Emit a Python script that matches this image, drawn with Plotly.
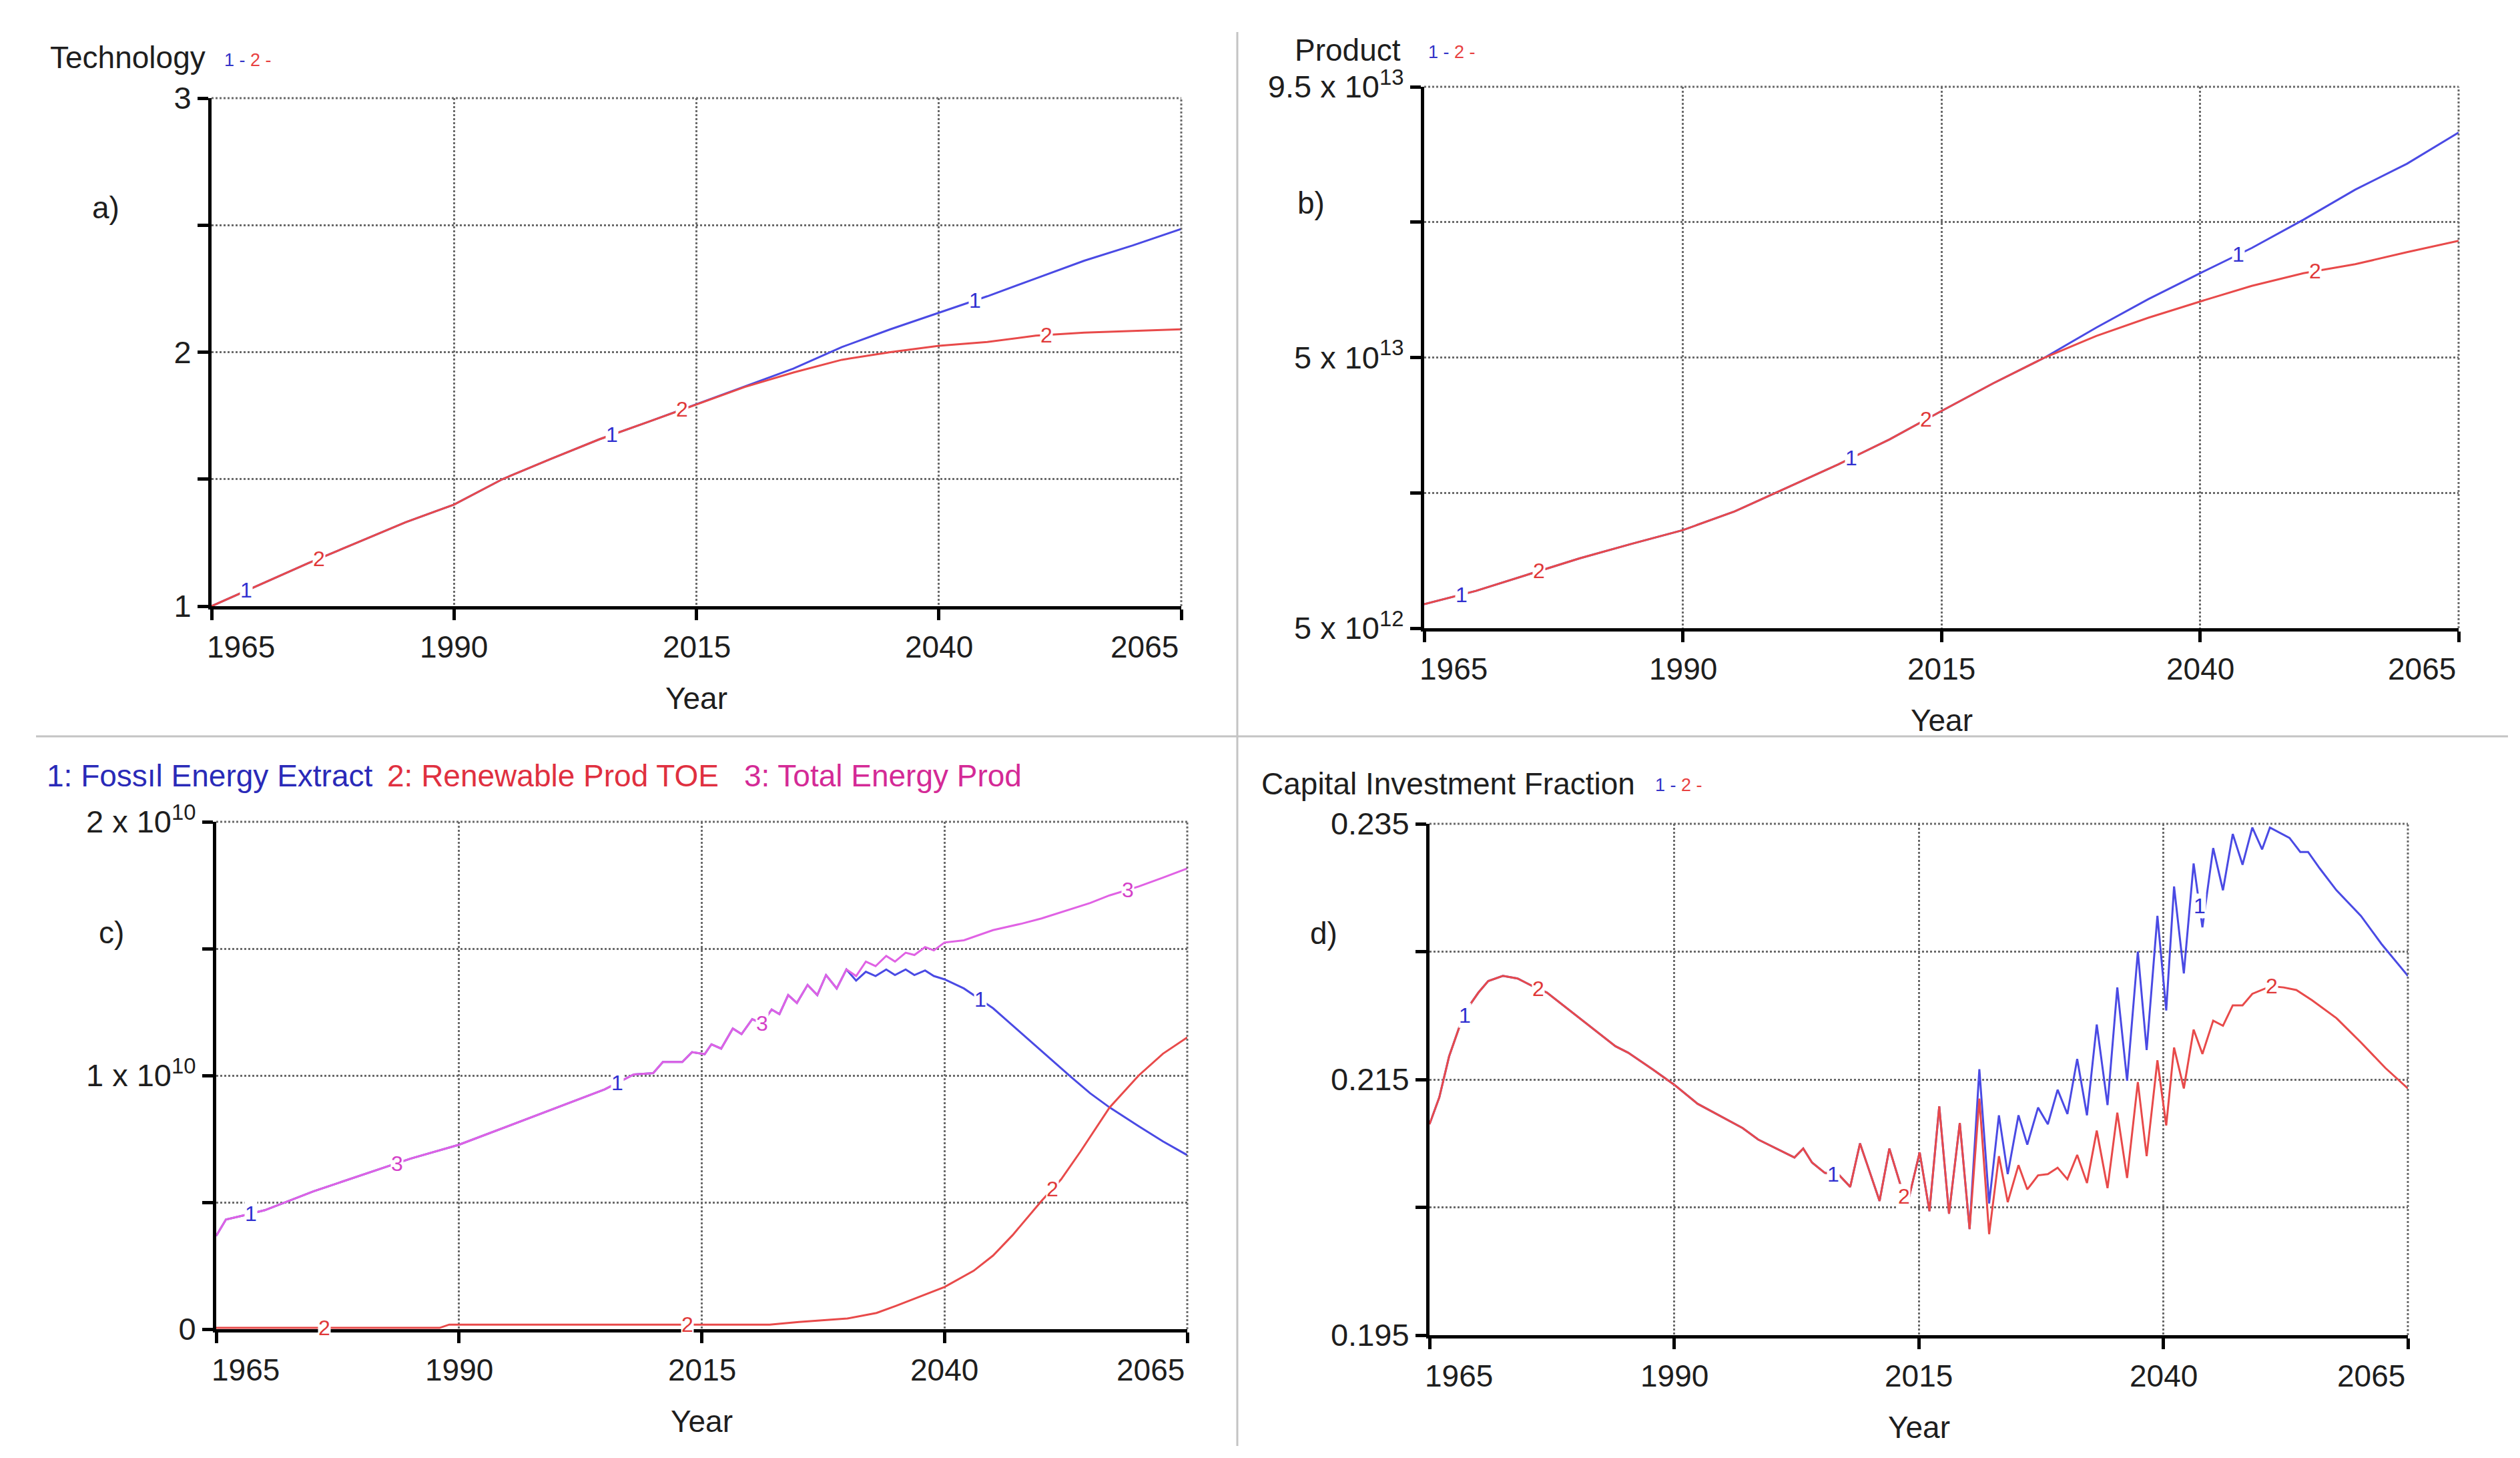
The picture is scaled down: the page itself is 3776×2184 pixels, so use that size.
import numpy as np
import plotly.graph_objects as go

W, H = 3776, 2184
FONT = "Liberation Sans, Arial, sans-serif"
BLUE = "#4a4ae4"
RED = "#e84a4a"
MAGENTA = "#e062e4"
TXT = "#1e1e1e"
PAGE_OFFSET = 8  # default body margin of the html page

# ---- data ----
x_ticks = [1965, 1990, 2015, 2040, 2065]

# a) Technology
tech_years = [1965, 1970, 1975, 1980, 1985, 1990, 1995, 2000, 2005, 2010, 2015,
              2020, 2025, 2030, 2035, 2040, 2045, 2050, 2055, 2060, 2065]
tech_run1 = [1.00, 1.086, 1.17, 1.25, 1.33, 1.40, 1.50, 1.58, 1.657, 1.725, 1.795,
             1.863, 1.935, 2.02, 2.09, 2.155, 2.22, 2.29, 2.36, 2.42, 2.485]
tech_run2 = [1.00, 1.086, 1.17, 1.25, 1.33, 1.40, 1.50, 1.58, 1.657, 1.725, 1.795,
             1.863, 1.92, 1.97, 2.00, 2.025, 2.04, 2.065, 2.077, 2.083, 2.09]

# b) Product (x 1e13)
product_years = tech_years
product_run1 = [0.90, 1.12, 1.39, 1.66, 1.90, 2.13, 2.44, 2.83, 3.22, 3.64, 4.11,
                4.57, 5.00, 5.50, 5.97, 6.40, 6.82, 7.29, 7.79, 8.22, 8.74]
product_run2 = [0.90, 1.12, 1.39, 1.66, 1.90, 2.13, 2.44, 2.83, 3.22, 3.64, 4.11,
                4.57, 5.00, 5.36, 5.66, 5.93, 6.19, 6.40, 6.55, 6.75, 6.94]

# c) energy (x 1e10)
energy_years = [1965, 1966, 1968, 1970, 1975, 1980, 1985, 1990, 1995, 2000, 2005,
                2008, 2010, 2011, 2013, 2014, 2015.3, 2016, 2017, 2018.2, 2019.1,
                2020.2, 2021.2, 2022.2, 2023, 2023.9, 2024.8, 2025.9, 2026.9, 2027.8,
                2028.9, 2029.9, 2030.9, 2031.9, 2032.9, 2034, 2034.9, 2036, 2036.9,
                2038, 2038.9, 2040, 2042, 2045, 2048, 2050, 2053, 2055, 2057, 2060,
                2062.5, 2065]
total_energy = [0.368, 0.432, 0.45, 0.469, 0.543, 0.607, 0.672, 0.727, 0.80, 0.874, 0.945,
                1.004, 1.009, 1.053, 1.053, 1.092, 1.084, 1.123, 1.106, 1.185, 1.163,
                1.222, 1.205, 1.260, 1.242, 1.317, 1.286, 1.357, 1.317, 1.396,
                1.343, 1.418, 1.392, 1.449, 1.431, 1.471, 1.449, 1.484, 1.475,
                1.506, 1.493, 1.524, 1.533, 1.573, 1.599, 1.619, 1.655, 1.68, 1.71, 1.745,
                1.78, 1.816]
fossil_energy = [0.368, 0.432, 0.45, 0.469, 0.543, 0.607, 0.672, 0.727, 0.80, 0.874, 0.945,
                 1.004, 1.009, 1.053, 1.053, 1.092, 1.084, 1.123, 1.106, 1.185, 1.163,
                 1.222, 1.205, 1.260, 1.242, 1.317, 1.286, 1.357, 1.317, 1.396,
                 1.343, 1.418, 1.374, 1.409, 1.392, 1.418, 1.396, 1.418, 1.396,
                 1.414, 1.392, 1.379, 1.343, 1.265, 1.163, 1.095, 0.995, 0.93, 0.874, 0.80,
                 0.74, 0.686]
renew_years = [1965, 1988, 1989, 2022, 2025, 2030, 2033, 2035, 2040, 2043, 2045, 2047,
               2050, 2052, 2054, 2057, 2060, 2062.5, 2065]
renew_energy = [0.005, 0.005, 0.018, 0.018, 0.028, 0.042, 0.064, 0.092, 0.166, 0.23, 0.29,
                0.37, 0.506, 0.59, 0.70, 0.874, 1.0, 1.086, 1.15]

# d) Capital Investment Fraction
cap_years_common = [1965, 1966, 1967, 1968, 1969, 1970, 1971, 1972.5, 1974, 1975.8, 1977,
                    1980, 1984, 1985.3, 1987.8, 1990, 1992.4, 1997, 1998.6, 2002.3, 2003.2,
                    2004.1, 2005.4, 2006.9, 2008, 2009, 2011, 2012, 2013.8, 2015.1, 2016.1,
                    2017.1, 2018.1, 2019.2, 2020.2]
cap_common = [0.2115, 0.2136, 0.2168, 0.2190, 0.2207, 0.2218, 0.2227, 0.2231, 0.2229, 0.2222,
              0.2218, 0.2200, 0.2176, 0.2171, 0.2158, 0.2146, 0.2131, 0.2112, 0.2103, 0.2089,
              0.2096, 0.2085, 0.2077, 0.2075, 0.2066, 0.2100, 0.2055, 0.2096, 0.2051, 0.2093,
              0.2047, 0.2129, 0.2045, 0.2116, 0.2033]
cap_years_run1 = [2021.2, 2022.2, 2023.2, 2024.1, 2025.2, 2026.1, 2027.2, 2028.2, 2029.2,
                  2030.2, 2031.2, 2032.2, 2033.2, 2034.3, 2035.3, 2036.3, 2037.4, 2038.3,
                  2039.4, 2040.3, 2041.1, 2042.1, 2043.1, 2044.0, 2045.1, 2046.1, 2047.1,
                  2048.1, 2049.1, 2050.1, 2050.9, 2052.9, 2054, 2054.8, 2056, 2057.7, 2060.2,
                  2062.3, 2065]
cap_run1 = [0.2158, 0.2053, 0.2122, 0.2076, 0.2122, 0.2099, 0.2128, 0.2115, 0.2142,
            0.2123, 0.2166, 0.2122, 0.2193, 0.2130, 0.2222, 0.2149, 0.2250, 0.2173,
            0.2278, 0.2204, 0.2301, 0.2233, 0.2319, 0.2269, 0.2331, 0.2298, 0.2342,
            0.2318, 0.2347, 0.2330, 0.2347, 0.2339, 0.2328, 0.2328, 0.2315, 0.2298, 0.2278,
            0.2256, 0.2231]
cap_years_run2 = [2021.2, 2022.2, 2023.2, 2024.1, 2025.2, 2026.1, 2027.2, 2028.2, 2029.2,
                  2030.2, 2031.2, 2032.2, 2033.2, 2034.3, 2035.3, 2036.3, 2037.4, 2038.3,
                  2039.4, 2040.3, 2041.1, 2042.1, 2043.1, 2044.0, 2045.1, 2046.1, 2047.1,
                  2048.1, 2049.1, 2050.1, 2051, 2052.3, 2053.6, 2055.2, 2057.7, 2060.2,
                  2062.7, 2065]
cap_run2 = [0.2135, 0.2029, 0.2090, 0.2054, 0.2083, 0.2064, 0.2075, 0.2076, 0.2081,
            0.2072, 0.2091, 0.2069, 0.2110, 0.2065, 0.2124, 0.2073, 0.2148, 0.2090,
            0.2165, 0.2114, 0.2175, 0.2143, 0.2189, 0.2170, 0.2196, 0.2192, 0.2208,
            0.2208, 0.2217, 0.2220, 0.2223, 0.2222, 0.2220, 0.2212, 0.2198, 0.2179,
            0.2159, 0.2143]

# positions of the run numbers written on the curves
label_years_1 = [1968.6, 2006.3, 2043.7]
label_years_2 = [1976.1, 2013.5, 2051.1]
label_years_3 = [1983.6, 2021.2, 2058.9]

# ---- layout helpers ----
def px(x):
    return (x - PAGE_OFFSET) / W

def py(y):
    return 1 - (y - PAGE_OFFSET) / H

# plot boxes in pixels: left, right, top, bottom
boxes = {
    "a": (317, 1770, 147, 908),
    "b": (2134, 3684, 130, 941),
    "c": (324, 1779, 1231, 1991),
    "d": (2142, 3608, 1234, 2000),
}

fig = go.Figure()
annotations = []
shapes = []
layout = {}

def make_axes(n, key, yrange, yvals, ytext):
    l, r, t, b = boxes[key]
    sfx = "" if n == 1 else str(n)
    grid = dict(showgrid=True, gridcolor="#6a6a6a", gridwidth=3, griddash="dot")
    layout["xaxis" + sfx] = dict(
        domain=[px(l), px(r)], range=[1965, 2065], anchor="y" + sfx, automargin=False,
        tickvals=x_ticks, showticklabels=False, ticks="outside", ticklen=16,
        tickwidth=5, tickcolor="black", showline=True, linewidth=5, linecolor="black",
        zeroline=False, **grid)
    layout["yaxis" + sfx] = dict(
        domain=[py(b), py(t)], range=yrange, anchor="x" + sfx, automargin=False,
        tickvals=yvals, ticktext=ytext, ticks="outside", ticklen=16, tickwidth=5,
        tickcolor="black", showline=True, linewidth=5, linecolor="black",
        zeroline=False, tickfont=dict(size=47, color=TXT, family=FONT), **grid)
    # dotted top and right edges of the frame
    xa, ya = "x" + sfx, "y" + sfx
    edge = dict(color="#6a6a6a", width=3, dash="dot")
    shapes.append(dict(type="line", xref=xa + " domain", yref=ya + " domain",
                       x0=0, x1=1, y0=1, y1=1, line=edge))
    shapes.append(dict(type="line", xref=xa + " domain", yref=ya + " domain",
                       x0=1, x1=1, y0=0, y1=1, line=edge))
    # x tick labels, first and last nudged inside like the original
    for i, v in enumerate(x_ticks):
        shift = 44 if i == 0 else (-55 if i == len(x_ticks) - 1 else 0)
        annotations.append(dict(x=v, y=py(b + 61), xref=xa, yref="paper", yanchor="middle",
                                text=str(v), showarrow=False, xshift=shift,
                                font=dict(size=46, color=TXT, family=FONT)))
    annotations.append(dict(x=2015, y=py(b + 138), xref=xa, yref="paper", yanchor="middle",
                            text="Year", showarrow=False,
                            font=dict(size=46, color=TXT, family=FONT)))
    return xa, ya

def add_line(xa, ya, xs, ys, color, scale=1.0):
    fig.add_trace(go.Scatter(x=xs, y=np.array(ys) * scale, mode="lines", xaxis=xa, yaxis=ya,
                             line=dict(color=color, width=3), showlegend=False,
                             hoverinfo="skip"))

def add_labels(xa, ya, text, years, xs, ys, color, scale=1.0):
    for yr in years:
        annotations.append(dict(x=yr, y=float(np.interp(yr, xs, ys)) * scale, xref=xa, yref=ya,
                                text=text, showarrow=False, bgcolor="white", borderpad=0,
                                xanchor="center", yanchor="middle",
                                font=dict(size=32, color=color, family=FONT)))

def run_key(x, y):
    annotations.append(dict(
        x=px(x), y=py(y), xref="paper", yref="paper", xanchor="left", yanchor="middle",
        showarrow=False,
        text='<span style="color:#3434c8">1 -</span> <span style="color:#e84040">2 -</span>',
        font=dict(size=27, color="#3434c8", family=FONT)))

def text_at(x, y, text, size=46, color=TXT):
    annotations.append(dict(x=px(x), y=py(y), xref="paper", yref="paper", xanchor="left",
                            yanchor="middle", showarrow=False, text=text,
                            font=dict(size=size, color=color, family=FONT)))

# a) Technology
xa, ya = make_axes(1, "a", [1, 3], [1, 1.5, 2, 2.5, 3], ["1", "", "2", "", "3"])
add_line(xa, ya, tech_years, tech_run1, BLUE)
add_line(xa, ya, tech_years, tech_run2, RED)
add_labels(xa, ya, "1", label_years_1, tech_years, tech_run1, "#3030d0")
add_labels(xa, ya, "2", label_years_2, tech_years, tech_run2, "#e03838")
text_at(73, 86, "Technology")
run_key(334, 90)
text_at(136, 311, "a)")

# b) Product
xa, ya = make_axes(2, "b", [5e12, 9.5e13], [5e12, 2.75e13, 5e13, 7.25e13, 9.5e13],
                   ["5 x 10<sup>12</sup>", "", "5 x 10<sup>13</sup>", "",
                    "9.5 x 10<sup>13</sup>"])
add_line(xa, ya, product_years, product_run1, BLUE, 1e13)
add_line(xa, ya, product_years, product_run2, RED, 1e13)
add_labels(xa, ya, "1", label_years_1, product_years, product_run1, "#3030d0", 1e13)
add_labels(xa, ya, "2", label_years_2, product_years, product_run2, "#e03838", 1e13)
text_at(1938, 75, "Product")
run_key(2138, 78)
text_at(1942, 304, "b)")

# c) Energy
xa, ya = make_axes(3, "c", [0, 2e10], [0, 5e9, 1e10, 1.5e10, 2e10],
                   ["0", "", "1 x 10<sup>10</sup>", "", "2 x 10<sup>10</sup>"])
add_line(xa, ya, energy_years, fossil_energy, BLUE, 1e10)
add_line(xa, ya, renew_years, renew_energy, RED, 1e10)
add_line(xa, ya, energy_years, total_energy, MAGENTA, 1e10)
add_labels(xa, ya, "1", label_years_1, energy_years, fossil_energy, "#3030d0", 1e10)
add_labels(xa, ya, "2", label_years_2, renew_years, renew_energy, "#e03838", 1e10)
add_labels(xa, ya, "3", label_years_3, energy_years, total_energy, "#d440c8", 1e10)
text_at(68, 1162, "1: Fossıl Energy Extract", color="#2a2ab8")
text_at(578, 1162, "2: Renewable Prod TOE", color="#e03040")
text_at(1113, 1162, "3: Total Energy Prod", color="#d42a96")
text_at(146, 1397, "c)")

# d) Capital Investment Fraction
xa, ya = make_axes(4, "d", [0.195, 0.235], [0.195, 0.205, 0.215, 0.225, 0.235],
                   ["0.195", "", "0.215", "", "0.235"])
cap_x1 = cap_years_common + cap_years_run1
cap_y1 = cap_common + cap_run1
cap_x2 = cap_years_common + cap_years_run2
cap_y2 = cap_common + cap_run2
add_line(xa, ya, cap_x1, cap_y1, BLUE)
add_line(xa, ya, cap_x2, cap_y2, RED)
add_labels(xa, ya, "1", label_years_1, cap_x1, cap_y1, "#3030d0")
add_labels(xa, ya, "2", label_years_2, cap_x2, cap_y2, "#e03838")
text_at(1888, 1174, "Capital Investment Fraction")
run_key(2478, 1176)
text_at(1961, 1398, "d)")

# separators between the four panels
shapes += [
    dict(type="line", xref="paper", yref="paper", x0=px(1854), x1=px(1854),
         y0=py(48), y1=py(2166), line=dict(color="#c4c4c4", width=3)),
    dict(type="line", xref="paper", yref="paper", x0=px(54), x1=px(3758),
         y0=py(1103), y1=py(1103), line=dict(color="#c4c4c4", width=3)),
]

fig.update_layout(
    template="none",
    width=W, height=H, autosize=False,
    margin=dict(l=0, r=0, t=0, b=0, pad=0),
    paper_bgcolor="white", plot_bgcolor="white",
    font=dict(family=FONT, color=TXT),
    annotations=annotations, shapes=shapes, showlegend=False,
    **layout)

fig.write_html("out.html")
